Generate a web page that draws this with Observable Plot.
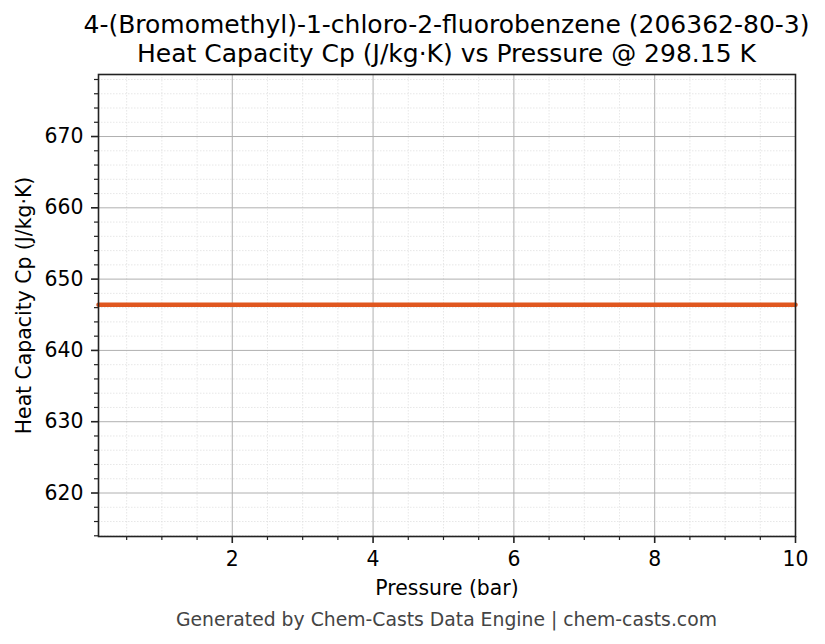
<!DOCTYPE html>
<html>
<head>
<meta charset="utf-8">
<script src="https://cdn.jsdelivr.net/npm/d3@7"></script>
<script src="https://cdn.jsdelivr.net/npm/@observablehq/plot@0.6"></script>
<style>
  html, body { margin: 0; padding: 0; background: #fff; }
  #wrap { position: relative; width: 825px; height: 644px; font-family: "DejaVu Sans", sans-serif; }
  #title { position: absolute; z-index: 2; left: 0px; width: 893px; top: 10px; text-align: center; font-size: 25px; line-height: 29px; color: #000; white-space: nowrap; }
  #title div { display: block; }
  #chart { position: absolute; z-index: 1; left: 0; top: 66px; }
  #caption { position: absolute; z-index: 2; left: 0px; width: 893px; top: 608px; text-align: center; font-size: 18.8px; line-height: 24px; color: #444; white-space: nowrap; }
</style>
</head>
<body>
<div id="wrap">
  <div id="title"><div>4-(Bromomethyl)-1-chloro-2-fluorobenzene (206362-80-3)</div><div>Heat Capacity Cp (J/kg·K) vs Pressure @ 298.15 K</div></div>
  <div id="chart"></div>
  <div id="caption">Generated by Chem-Casts Data Engine | chem-casts.com</div>
</div>
<script>
// Data
const pressures = [0.1, 1, 2, 3, 4, 5, 6, 7, 8, 9, 10];
const heatCapacity = [646.4, 646.4, 646.4, 646.4, 646.4, 646.4, 646.4, 646.4, 646.4, 646.4, 646.4];
const xDomain = [0.1, 10];
const yDomain = [613.9, 678.7];
const xMajorTicks = [2, 4, 6, 8, 10];
const xMinorTicks = [0.5, 1, 1.5, 2.5, 3, 3.5, 4.5, 5, 5.5, 6.5, 7, 7.5, 8.5, 9, 9.5];
const yMajorTicks = [620, 630, 640, 650, 660, 670];
const yMinorTicks = [614, 616, 618, 622, 624, 626, 628, 632, 634, 636, 638, 642, 644, 646, 648, 652, 654, 656, 658, 662, 664, 666, 668, 672, 674, 676, 678];

const data = pressures.map((p, i) => ({p, cp: heatCapacity[i]}));

const fs = "20.4px";
const chart = Plot.plot({
  width: 825,
  height: 534,
  marginLeft: 98,
  marginRight: 30,
  marginTop: 8,
  marginBottom: 64,
  style: {fontFamily: "DejaVu Sans, sans-serif", fontSize: fs, color: "#000", background: "transparent", overflow: "visible"},
  x: {domain: xDomain},
  y: {domain: yDomain},
  marks: [
    Plot.gridX(xMinorTicks, {stroke: "#dddddd", strokeOpacity: 1, strokeWidth: 0.7, strokeDasharray: "1.5,1.5"}),
    Plot.gridY(yMinorTicks, {stroke: "#dddddd", strokeOpacity: 1, strokeWidth: 0.7, strokeDasharray: "1.5,1.5"}),
    Plot.gridX(xMajorTicks, {stroke: "#b0b0b0", strokeOpacity: 1, strokeWidth: 1}),
    Plot.gridY(yMajorTicks, {stroke: "#b0b0b0", strokeOpacity: 1, strokeWidth: 1}),
    Plot.line(data, {x: "p", y: "cp", stroke: "#e0571f", strokeWidth: 4.5}),
    Plot.frame({stroke: "#222", strokeWidth: 1.6}),
    Plot.axisX(xMinorTicks, {tickSize: 4, tickFormat: () => "", label: null, stroke: "#222", strokeWidth: 1.2}),
    Plot.axisY(yMinorTicks, {tickSize: 4, tickFormat: () => "", label: null, stroke: "#222", strokeWidth: 1.2}),
    Plot.axisX(xMajorTicks, {tickSize: 7, tickPadding: 8, tickFormat: d => String(d), fontSize: fs, stroke: "#222", strokeWidth: 1.6, fill: "#000",
      label: "Pressure (bar)", labelAnchor: "center", labelArrow: "none", labelOffset: 58}),
    Plot.axisY(yMajorTicks, {tickSize: 7, tickPadding: 8, tickFormat: d => String(d), fontSize: fs, stroke: "#222", strokeWidth: 1.6, fill: "#000",
      label: "Heat Capacity Cp (J/kg·K)", labelAnchor: "center", labelArrow: "none", labelOffset: 82})
  ]
});
document.getElementById("chart").appendChild(chart);
</script>
</body>
</html>
